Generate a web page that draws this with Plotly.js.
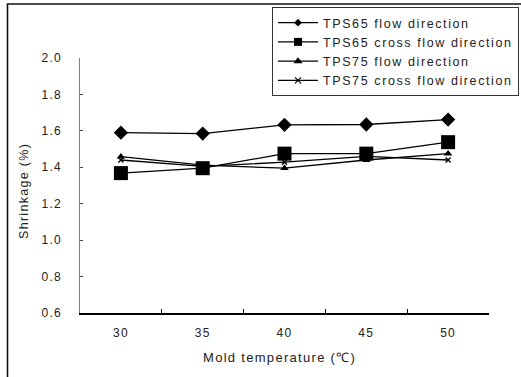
<!DOCTYPE html>
<html>
<head>
<meta charset="utf-8">
<script src="https://cdn.plot.ly/plotly-3.0.1.min.js"></script>
<style>
  html, body { margin: 0; padding: 0; background: #fff; }
  #chart { width: 521px; height: 377px; }
  /* wide letter spacing of the original Korean typeface */
  text { letter-spacing: 1.3px; }
  text.legendtext { letter-spacing: 1.6px; }
</style>
</head>
<body>
<div id="chart"></div>
<script>
// Mold temperature (°C) categories
const temperatures = ['30', '35', '40', '45', '50'];

// Shrinkage (%) per series
const tps65Flow  = [1.59, 1.585, 1.633, 1.635, 1.662];
const tps65Cross = [1.368, 1.395, 1.475, 1.475, 1.538];
const tps75Flow  = [1.458, 1.412, 1.395, 1.44, 1.475];
const tps75Cross = [1.44, 1.405, 1.428, 1.46, 1.44];

const seriesNames = [
  'TPS65 flow direction',
  'TPS65 cross flow direction',
  'TPS75 flow direction',
  'TPS75 cross flow direction'
];

const yTicks = [0.6, 0.8, 1.0, 1.2, 1.4, 1.6, 1.8, 2.0];

const black = '#000';
const lineStyle = { color: black, width: 1.3 };

// plotted series (squares drawn last so they sit on top)
function series(y, symbol, size, nameIdx) {
  return {
    type: 'scatter', mode: 'lines+markers',
    x: temperatures, y: y,
    name: seriesNames[nameIdx],
    showlegend: false,
    line: lineStyle,
    marker: { symbol: symbol, size: size, color: black,
              line: { color: black, width: symbol === 'x-thin' ? 1.4 : 0 } },
    cliponaxis: false
  };
}

// legend entries with smaller key symbols
function key(symbol, size, rank, nameIdx) {
  return {
    type: 'scatter', mode: 'lines+markers',
    x: [null], y: [null],
    name: seriesNames[nameIdx],
    legendrank: rank,
    showlegend: true,
    hoverinfo: 'skip',
    line: lineStyle,
    marker: { symbol: symbol, size: size, color: black,
              line: { color: black, width: symbol === 'x-thin' ? 1.2 : 0 } }
  };
}

const data = [
  series(tps75Cross, 'x-thin', 5, 3),
  series(tps75Flow, 'triangle-up', 7.5, 2),
  series(tps65Flow, 'diamond', 11, 0),
  series(tps65Cross, 'square', 14, 1),
  key('diamond', 6, 1, 0),
  key('square', 8, 2, 1),
  key('triangle-up', 8, 3, 2),
  key('x-thin', 6, 4, 3)
];

const textFont = { family: 'Liberation Sans, Arial, sans-serif', color: '#222' };

const layout = {
  width: 521, height: 377,
  margin: { l: 80, r: 32, t: 58, b: 64, autoexpand: false },
  paper_bgcolor: '#fff', plot_bgcolor: '#fff',
  showlegend: true,
  legend: {
    xref: 'paper', yref: 'paper',
    x: (519 - 80) / 409, xanchor: 'right',
    y: (313 - 7) / 255, yanchor: 'top',
    bgcolor: '#fff', bordercolor: '#333', borderwidth: 1,
    font: Object.assign({ size: 12.5 }, textFont),
    itemwidth: 40,
    traceorder: 'normal',
    tracegroupgap: 0
  },
  xaxis: {
    type: 'category',
    categoryarray: temperatures,
    range: [-0.5, 4.5],
    tickson: 'boundaries',
    ticks: 'inside', ticklen: 4, tickwidth: 1, tickcolor: black,
    showline: true, linecolor: black, linewidth: 1.5,
    showgrid: false, zeroline: false,
    automargin: false,
    ticklabelstandoff: 8,
    tickfont: Object.assign({ size: 12 }, textFont),
    fixedrange: true
  },
  yaxis: {
    range: [0.6, 2.0],
    tickvals: yTicks,
    tickformat: '.1f',
    ticks: 'inside', ticklen: 3, tickwidth: 1, tickcolor: '#444',
    showline: true, linecolor: '#808080', linewidth: 1.5,
    showgrid: false, zeroline: false,
    automargin: false,
    ticklabelstandoff: 14,
    tickfont: Object.assign({ size: 12 }, textFont),
    fixedrange: true
  },
  annotations: [
    {
      text: 'Shrinkage (%)', textangle: -90,
      xref: 'paper', yref: 'paper',
      x: (24 - 80) / 409, y: (313 - 191) / 255,
      xanchor: 'center', yanchor: 'middle', showarrow: false,
      font: Object.assign({ size: 12.5 }, textFont)
    },
    {
      text: 'Mold temperature (℃)',
      xref: 'paper', yref: 'paper',
      x: (279 - 80) / 409, y: (313 - 357) / 255,
      xanchor: 'center', yanchor: 'middle', showarrow: false,
      font: Object.assign({ size: 13 }, textFont)
    }
  ],
  shapes: [
    {
      // outer frame around the figure
      type: 'rect', xref: 'paper', yref: 'paper',
      x0: (7.5 - 80) / 409, x1: (540 - 80) / 409,
      y0: (313 - 400) / 255, y1: (313 - 4) / 255,
      line: { color: '#111', width: 1.6 },
      fillcolor: 'rgba(0,0,0,0)',
      layer: 'below'
    }
  ]
};

Plotly.newPlot('chart', data, layout, { staticPlot: true, displayModeBar: false });
</script>
</body>
</html>
